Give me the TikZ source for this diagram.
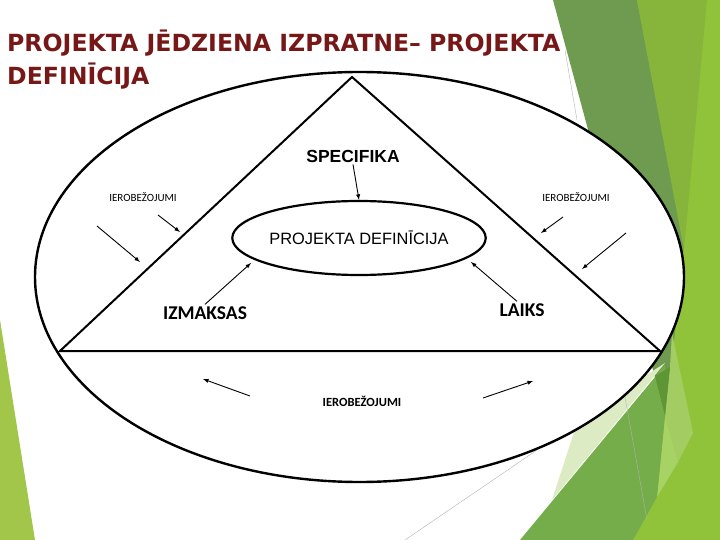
\documentclass[tikz,border=0pt]{standalone}
\usepackage{fontspec}
\setmainfont{Liberation Sans}
\newfontfamily\titlefont{DejaVu Sans}
\newfontfamily\calfont{Carlito}
\usepackage{tikz}
\usetikzlibrary{shapes.geometric,arrows}
\definecolor{titlered}{RGB}{118,24,24}
\definecolor{olivegreen}{RGB}{111,155,80}
\definecolor{midgreen}{RGB}{135,180,59}
\definecolor{brightgreen}{RGB}{145,195,58}
\definecolor{lowgreen}{RGB}{116,173,74}
\definecolor{palegreen}{RGB}{221,235,196}
\definecolor{bandgreen}{RGB}{163,205,99}
\definecolor{lightgreen}{RGB}{167,210,100}
\definecolor{deepgreen}{RGB}{94,150,54}
\definecolor{leftgreen}{RGB}{162,198,74}

\begin{document}
\begin{tikzpicture}[x=1pt,y=-1pt,
  arr/.style={-latex, line width=0.9pt},
  small/.style={inner sep=1pt, font=\calfont\fontsize{11}{13}\selectfont},
  big/.style={inner sep=2pt, font=\calfont\bfseries\fontsize{19.5}{22}\selectfont},
  ttl/.style={anchor=base west, inner sep=0pt, text=titlered,
    font=\titlefont\bfseries\fontsize{23.6}{28}\selectfont},
  faint/.style={line width=0.4pt, gray!60}]
  \useasboundingbox[fill=white] (0,0) rectangle (720,540);

  %% Green facets of the slide background
  \fill[brightgreen] (637,0) -- (720,0) -- (720,540) -- (633,540) -- (668,400) -- cycle;
  \fill[olivegreen] (553,0) -- (637,0) -- (684,245) -- (666,418) -- cycle;
  \fill[midgreen] (637,0) -- (707,0) -- (684,250) -- cycle;
  \fill[bandgreen] (672,333) -- (693,433) -- (678,462) -- (665,416) -- (670,367) -- cycle;
  \fill[lightgreen] (665,416) -- (678,462) -- (657,497) -- cycle;
  \fill[palegreen] (552,500) -- (578,420) -- (665,363) -- cycle;
  \fill[lowgreen] (520,540) -- (665,365) -- (665,416) -- (657,497) -- (633,540) -- cycle;
  \fill[deepgreen] (655,376) -- (670,367) -- (665,416) -- cycle;
  \fill[leftgreen] (0,320) -- (35,540) -- (0,540) -- cycle;
  \draw[faint] (565,50) -- (577,120);
  \draw[faint] (405,540) -- (537,450);
  \draw[faint] (625,397) -- (647,520);

  %% Title
  \node[ttl] (TITLE1) at (7,52) {PROJEKTA JĒDZIENA IZPRATNE– PROJEKTA};
  \node[ttl] (TITLE2) at (7,85) {DEFINĪCIJA};

  %% Outer ellipse and triangle
  \draw[fill=white, line width=2.4pt] (359.5,277) ellipse [x radius=324.5, y radius=205];
  \coordinate (APEX) at (352,77);
  \coordinate (LV) at (60,351);
  \coordinate (RV) at (660,351);
  \draw[line width=2pt, line join=miter] (APEX) -- (LV) -- (RV) -- cycle;

  %% Inner ellipse and labels
  \node[draw, ellipse, line width=2.2pt, minimum width=248pt, minimum height=74pt,
    inner sep=0pt, font=\fontsize{16.4}{19}\selectfont] (DEF) at (359,238) {PROJEKTA DEFINĪCIJA};
  \node[font=\bfseries\fontsize{17.5}{20}\selectfont, inner sep=2pt] (SPEC) at (353,156) {SPECIFIKA};
  \node[big] (IZM) at (205,313) {IZMAKSAS};
  \node[big] (LAIKS) at (522,310) {LAIKS};
  \node[small] (IERL) at (143,197) {IEROBEŽOJUMI};
  \node[small] (IERR) at (576,197) {IEROBEŽOJUMI};
  \node[small, font=\calfont\bfseries\fontsize{12.5}{14}\selectfont] (IERB) at (362,401) {IEROBEŽOJUMI};

  %% Arrows into the definition
  \coordinate (IZMTIP) at (251,263);
  \coordinate (LAIKSTIP) at (471,262);
  \draw[arr] (SPEC.south) -- (DEF.north);
  \draw[arr] (IZM.north) -- (IZMTIP);
  \draw[arr] (LAIKS.120) -- (LAIKSTIP);

  %% Arrows of the constraints
  \foreach \a/\b/\c/\d [count=\i] in {97/226/140/262, 158/215/180/232, 563/217/541/233,
    626/233/582/269, 250/396/203/379, 483/398/533/381}
  {
    \coordinate (T\i) at (\a,\b);
    \coordinate (H\i) at (\c,\d);
    \draw[arr] (T\i) -- (H\i);
  }
\end{tikzpicture}
\end{document}
